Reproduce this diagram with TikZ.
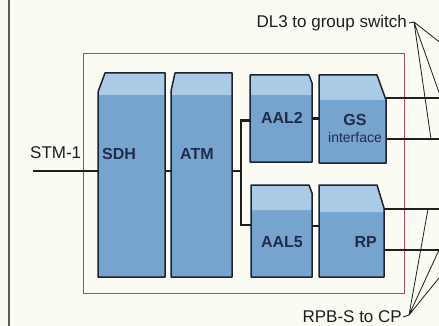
\documentclass[tikz,border=0pt]{standalone}
\usepackage{fontspec}
\setmainfont{Liberation Sans}
\usetikzlibrary{calc}
\definecolor{bgc}{HTML}{FBFAF3}
\definecolor{blkF}{HTML}{77A4CF}
\definecolor{blkT}{HTML}{AACAE6}
\definecolor{blkL}{HTML}{1C2230}
\definecolor{brd}{HTML}{B04A66}
\definecolor{ink}{HTML}{1E1E1E}
\definecolor{txtB}{HTML}{1F2C4A}
\definecolor{frm}{HTML}{5A5A5A}
\tikzset{
  blk/.style ={inner sep=0pt, outer sep=0pt, draw=none},
  board/.style={blk, draw=brd, line width=0.9pt},
  frontc/.style={fill=blkF},
  topc/.style ={fill=blkT},
  outl/.style ={draw=blkL, line width=1.5pt, line join=round},
  lbl/.style ={inner sep=0pt, text=ink, font=\fontsize{17}{20}\selectfont},
  inl/.style ={inner sep=0pt, text=txtB, font=\fontsize{16}{19}\selectfont\bfseries},
  inls/.style={inner sep=0pt, text=txtB, font=\fontsize{14}{17}\selectfont},
  wire/.style={draw=ink, line width=2.4pt},
  fan/.style ={draw=ink, line width=0.8pt, line join=round},
}
\begin{document}
\begin{tikzpicture}[x=1pt,y=-1pt]
\useasboundingbox (0,0) rectangle (439,326);
\fill[bgc] (0,0) rectangle (439,326);
\clip (0,0) rectangle (439,326);

% ============ frame and board ===============================================
\draw[frm, line width=1.3pt] (9,0) -- (9,326);
\node[board, minimum width=321pt, minimum height=240pt] (brd) at (243.5,173) {};

% ============ blocks ========================================================
\node[blk, minimum width=67pt, minimum height=204pt] (sdh)  at (131.5,175) {};
\node[blk, minimum width=61pt, minimum height=204pt] (atm)  at (201.5,175) {};
\node[blk, minimum width=62pt, minimum height=87pt]  (aal2) at (281,118.5) {};
\node[blk, minimum width=67pt, minimum height=88pt]  (gs)   at (352.5,119) {};
\node[blk, minimum width=61pt, minimum height=92pt]  (aal5) at (281.5,231) {};
\node[blk, minimum width=65pt, minimum height=92pt]  (rp)   at (351.5,231) {};

% ============ wires =========================================================
\coordinate (stm) at (33,171);
\coordinate (split) at (241,171);
\draw[wire] (stm) -- (stm -| sdh.west);
\draw[wire] (stm -| sdh.east) -- (stm -| atm.west);
\draw[wire] (stm -| atm.east) -- (split);
\draw[wire] ([yshift=-2pt]aal2.west) -| (split) |- ([yshift=6pt]aal5.west);
\draw[wire] (aal2.east) -- (aal2.east -| gs.west);
\draw[wire] ([yshift=5pt]aal5.east) -- ([yshift=5pt]aal5.east -| rp.west);
\coordinate (gsoA) at (445,98);
\coordinate (gsoB) at (445,139);
\coordinate (rpoA) at (445,209);
\coordinate (rpoB) at (445,250);
\foreach \o/\b in {gsoA/gs, gsoB/gs, rpoA/rp, rpoB/rp}{
  \draw[wire] (\o -| \b.east) -- (\o);
}

% chamfer top-left
\foreach \n/\a/\b/\d in {sdh/7/19/22, atm/4/18/22}{
  \fill[frontc] ($(\n.north west)+(\a,0)$) -- (\n.north east) -- (\n.south east)
    -- (\n.south west) -- ($(\n.north west)+(0,\b)$) -- cycle;
  \fill[topc] ($(\n.north west)+(\a,0)$) -- (\n.north east) -- ($(\n.north east)+(0,\d)$)
    -- ($(\n.north west)+(0,\d)$) -- ($(\n.north west)+(0,\b)$) -- cycle;
  \draw[outl] ($(\n.north west)+(\a,0)$) -- (\n.north east) -- (\n.south east)
    -- (\n.south west) -- ($(\n.north west)+(0,\b)$) -- cycle;
}
% chamfer top-right
\foreach \n/\a/\b/\d in {aal2/3/8/20, gs/9/25/25, aal5/3/8/25, rp/7/23/27}{
  \fill[frontc] (\n.north west) -- ($(\n.north east)+(-\a,0)$) -- ($(\n.north east)+(0,\b)$)
    -- (\n.south east) -- (\n.south west) -- cycle;
  \fill[topc] (\n.north west) -- ($(\n.north east)+(-\a,0)$) -- ($(\n.north east)+(0,\b)$)
    -- ($(\n.north east)+(0,\d)$) -- ($(\n.north west)+(0,\d)$) -- cycle;
  \draw[outl] (\n.north west) -- ($(\n.north east)+(-\a,0)$) -- ($(\n.north east)+(0,\b)$)
    -- (\n.south east) -- (\n.south west) -- cycle;
}

% ============ labels ========================================================
\node[inl, anchor=west] (sdhlbl) at (102,154) {SDH};
\node[inl, anchor=west] (atmlbl) at (180,154) {ATM};
\node[inl] (aal2lbl) at (282,118) {AAL2};
\node[inl] (gslbl) at (355,120) {GS};
\node[inls] (iflbl) at (355,137) {interface};
\node[inl] (aal5lbl) at (282,242) {AAL5};
\node[inl, anchor=east] (rplbl) at (377,242) {RP};
\node[lbl, anchor=west] (stmlbl) at (30,153) {STM-1};
\node[lbl, anchor=east] (dl3) at (407,23) {DL3 to group switch};
\node[lbl, anchor=east] (rpbs) at (402,317) {RPB-S to CP};

% ============ fans ==========================================================
\coordinate (dlhook) at (414,22);
\coordinate (dlend1) at (431,139);
\coordinate (dlend2) at (441,98);
\coordinate (dlend3) at (447,48);
\draw[fan] ([xshift=2pt]dl3.east) -- (dlhook) -- (dlend1)
  (dlhook) -- (dlend2) (dlhook) -- (dlend3);
\coordinate (rphook) at (409,315);
\coordinate (rpend1) at (428,209);
\coordinate (rpend2) at (439,250);
\coordinate (rpend3) at (447,268);
\draw[fan] ([xshift=1pt]rpbs.east) -- (rphook) -- (rpend1)
  (rphook) -- (rpend2) (rphook) -- (rpend3);

\end{tikzpicture}
\end{document}
